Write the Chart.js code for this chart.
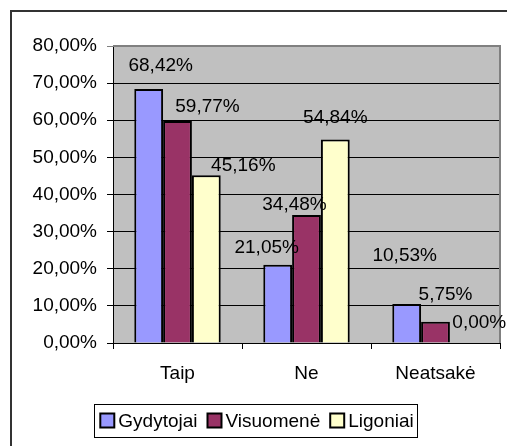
<!DOCTYPE html>
<html>
<head>
<meta charset="utf-8">
<script src="https://cdn.jsdelivr.net/npm/chart.js@4"></script>
<style>
    html, body { margin: 0; padding: 0; background: #fff; }
    #wrap { width: 507px; height: 446px; position: relative; }
</style>
</head>
<body>
<div id="wrap"><canvas id="chart"></canvas></div>
<script>
const categories = ["Taip", "Ne", "Neatsakė"];
const seriesNames = ["Gydytojai", "Visuomenė", "Ligoniai"];
const gydytojai = [68.42, 21.05, 10.53];
const visuomene = [59.77, 34.48, 5.75];
const ligoniai = [45.16, 54.84, 0.00];
const yTicks = [0, 10, 20, 30, 40, 50, 60, 70, 80];

const colors = ["#9999FF", "#993366", "#FFFFCC"];
const FONT = "'Liberation Sans', Arial, sans-serif";
const FSIZE = 19;

// where each value label sits, relative to the top centre of its bar (px)
const labelShift = [
    [[12, 23], [-11, 17], [-2, 48]],
    [[30, 14], [-12, 10], [10, 27]],
    [[37, 10], [0, 22], [15, 20]]
];

function fmt(v)
{
    return v.toFixed(2).replace(".", ",") + "%";
}

const frame = {
    id: "frame",
    beforeDraw(chart)
    {
        const c = chart.ctx;
        const a = chart.chartArea;
        c.save();
        c.fillStyle = "#fff";
        c.fillRect(0, 0, chart.width, chart.height);
        c.strokeStyle = "#333";
        c.lineWidth = 2;
        c.strokeRect(11, 11, chart.width + 20, chart.height + 20);
        c.fillStyle = "#C0C0C0";
        c.fillRect(a.left, a.top, a.right - a.left, a.bottom - a.top);
        c.restore();
    },
    afterDraw(chart)
    {
        const c = chart.ctx;
        const a = chart.chartArea;
        c.save();
        c.strokeStyle = "#808080";
        c.lineWidth = 2;
        c.beginPath();
        c.moveTo(a.left, a.top);
        c.lineTo(a.right, a.top);
        c.lineTo(a.right, a.bottom);
        c.stroke();

        // value labels
        c.fillStyle = "#000";
        c.font = FSIZE + "px " + FONT;
        c.textAlign = "center";
        c.textBaseline = "middle";
        chart.data.datasets.forEach((ds, i) => {
            chart.getDatasetMeta(i).data.forEach((bar, j) => {
                const s = labelShift[i][j];
                c.fillText(fmt(ds.data[j]), bar.x + s[0], bar.y - s[1]);
            });
        });

        // legend with a box round it
        const gap = 10, sq = 14, toText = 4;
        let widths = chart.data.datasets.map(ds => sq + toText + c.measureText(ds.label).width);
        let total = widths.reduce((p, w) => p + w, 0) + gap * (widths.length - 1);
        let x = 257 - total / 2;
        const y = 420.5;
        c.strokeStyle = "#000";
        c.lineWidth = 1;
        c.strokeRect(Math.round(x - 6) + 0.5, 404.5, Math.round(total + 10), 33);
        c.textAlign = "left";
        chart.data.datasets.forEach((ds, i) => {
            c.fillStyle = ds.backgroundColor;
            c.fillRect(x, y - sq / 2, sq, sq);
            c.lineWidth = 2;
            c.strokeRect(x, y - sq / 2, sq, sq);
            c.fillStyle = "#000";
            c.fillText(ds.label, x + sq + toText, y + 1);
            x += widths[i] + gap;
        });
        c.restore();
    }
};

new Chart(document.getElementById("chart"), {
    type: "bar",
    data: {
        labels: categories,
        datasets: [
            { label: seriesNames[0], data: gydytojai, backgroundColor: colors[0] },
            { label: seriesNames[1], data: visuomene, backgroundColor: colors[1] },
            { label: seriesNames[2], data: ligoniai, backgroundColor: colors[2] }
        ].map(d => Object.assign(d, {
            borderColor: "#000",
            borderWidth: 2,
            categoryPercentage: 0.67,
            barPercentage: 1.0
        }))
    },
    options: {
        responsive: true,
        maintainAspectRatio: false,
        animation: false,
        layout: { padding: { top: 46, right: 7, left: 0, bottom: 0 } },
        plugins: {
            legend: { display: false },
            tooltip: { enabled: false }
        },
        scales: {
            x: {
                afterFit(scale) { scale.height = 103; },
                grid: {
                    drawOnChartArea: false,
                    offset: true,
                    tickLength: 6,
                    color: "#000"
                },
                border: { color: "#000", width: 1 },
                ticks: {
                    color: "#000",
                    padding: 13,
                    font: { family: FONT, size: FSIZE }
                }
            },
            y: {
                min: 0,
                max: 80,
                afterFit(scale) { scale.width = 113; },
                afterBuildTicks(scale) { scale.ticks = yTicks.map(v => ({ value: v })); },
                grid: {
                    tickLength: 6,
                    color: ctx => (ctx.tick && ctx.tick.value === 80) ? "#808080" : "#000"
                },
                border: { color: "#000", width: 1 },
                ticks: {
                    color: "#000",
                    padding: 10,
                    font: { family: FONT, size: FSIZE },
                    callback: v => fmt(v)
                }
            }
        }
    },
    plugins: [frame]
});
</script>
</body>
</html>
